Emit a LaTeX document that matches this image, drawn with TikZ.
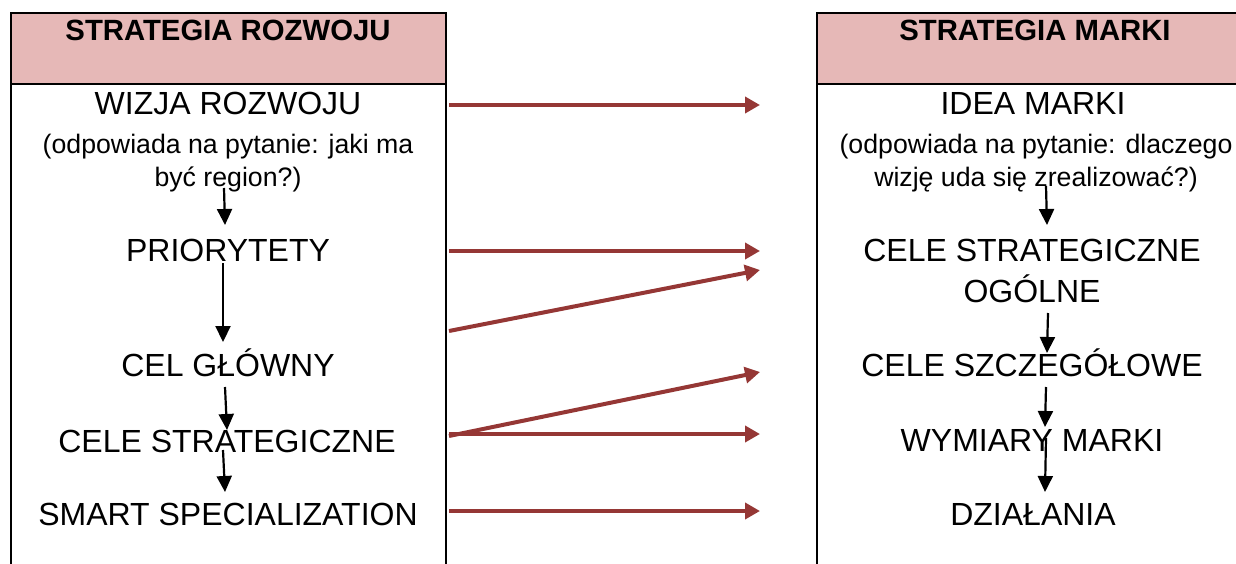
\documentclass[tikz,border=0pt]{standalone}
\usepackage{fontspec}
\setmainfont{Liberation Sans}
\usetikzlibrary{arrows.meta}
\definecolor{hdrfill}{HTML}{E6B8B7}
\definecolor{maparrow}{HTML}{953735}
\begin{document}
\begin{tikzpicture}[x=1pt,y=-1pt,
  lbl/.style={anchor=base, inner sep=0pt, font=\fontsize{32}{38}\selectfont},
  sub/.style={anchor=base, inner sep=0pt, font=\fontsize{26.7}{32}\selectfont},
  hd/.style={anchor=base, inner sep=0pt, font=\fontsize{29.3}{35}\selectfont\bfseries},
  blk/.style={-{Triangle[length=16pt,width=15pt]}, line width=2.2pt, black},
  maparr/.style={-{Triangle[length=15pt,width=16pt]}, line width=4pt, maparrow},
  frame/.style={line width=2.2pt, black}]
\useasboundingbox (0,0) rectangle (1236,564);
\begin{scope}
  \clip (0,0) rectangle (1236,564);
  \fill[hdrfill] (11,13) rectangle (446,84);
  \fill[hdrfill] (817,13) rectangle (1260,84);
  \draw[frame] (11,600) -- (11,13) -- (446,13) -- (446,600);
  \draw[frame] (11,84) -- (446,84);
  \draw[frame] (817,600) -- (817,13) -- (1260,13);
  \draw[frame] (817,84) -- (1260,84);
\end{scope}
% headers
\node[hd] (hl) at (228,41) {STRATEGIA ROZWOJU};
\node[hd] (hr) at (1035,41) {STRATEGIA MARKI};
% left column
\node[lbl] (wiz) at (228,115) {WIZJA ROZWOJU};
\node[sub] (wiz1) at (228,154) {(odpowiada na pytanie: jaki ma};
\node[sub] (wiz2) at (228,186) {być region?)};
\node[lbl] (prio) at (228,261) {PRIORYTETY};
\node[lbl] (celg) at (228,376) {CEL GŁÓWNY};
\node[lbl] (cels) at (227,452) {CELE STRATEGICZNE};
\node[lbl] (smart) at (228,525) {SMART SPECIALIZATION};
% right column
\node[lbl] (idea) at (1033,115) {IDEA MARKI};
\node[sub] (idea1) at (1036,154) {(odpowiada na pytanie: dlaczego};
\node[sub] (idea2) at (1036,186) {wizję uda się zrealizować?)};
\node[lbl] (cso1) at (1032,261) {CELE STRATEGICZNE};
\node[lbl] (cso2) at (1032,302) {OGÓLNE};
\node[lbl] (csz) at (1032,376) {CELE SZCZEGÓŁOWE};
\node[lbl] (wym) at (1032,451) {WYMIARY MARKI};
\node[lbl] (dzi) at (1033,525) {DZIAŁANIA};
% black arrow end points
\coordinate (la1) at (224,188); \coordinate (lb1) at (225,225);
\coordinate (la2) at (223,263); \coordinate (lb2) at (223,342);
\coordinate (la3) at (225,387); \coordinate (lb3) at (227,430);
\coordinate (la4) at (223,450); \coordinate (lb4) at (225,492);
\coordinate (ra1) at (1046,186); \coordinate (rb1) at (1047,225);
\coordinate (ra2) at (1048,313); \coordinate (rb2) at (1047,353);
\coordinate (ra3) at (1046,387); \coordinate (rb3) at (1045,427);
\coordinate (ra4) at (1046,438); \coordinate (rb4) at (1045,492);
\draw[blk] (la1) -- (lb1);
\draw[blk] (la2) -- (lb2);
\draw[blk] (la3) -- (lb3);
\draw[blk] (la4) -- (lb4);
\draw[blk] (ra1) -- (rb1);
\draw[blk] (ra2) -- (rb2);
\draw[blk] (ra3) -- (rb3);
\draw[blk] (ra4) -- (rb4);
% red arrows
\coordinate (s1) at (449,105); \coordinate (t1) at (760,105);
\coordinate (s2) at (449,251); \coordinate (t2) at (760,251);
\coordinate (s3) at (449,331); \coordinate (t3) at (760,270);
\coordinate (s4) at (449,436); \coordinate (t4) at (760,372);
\coordinate (s5) at (449,434); \coordinate (t5) at (760,434);
\coordinate (s6) at (449,511); \coordinate (t6) at (760,511);
\draw[maparr] (s1) -- (t1);
\draw[maparr] (s2) -- (t2);
\draw[maparr] (s3) -- (t3);
\draw[maparr] (s4) -- (t4);
\draw[maparr] (s5) -- (t5);
\draw[maparr] (s6) -- (t6);
\end{tikzpicture}
\end{document}
